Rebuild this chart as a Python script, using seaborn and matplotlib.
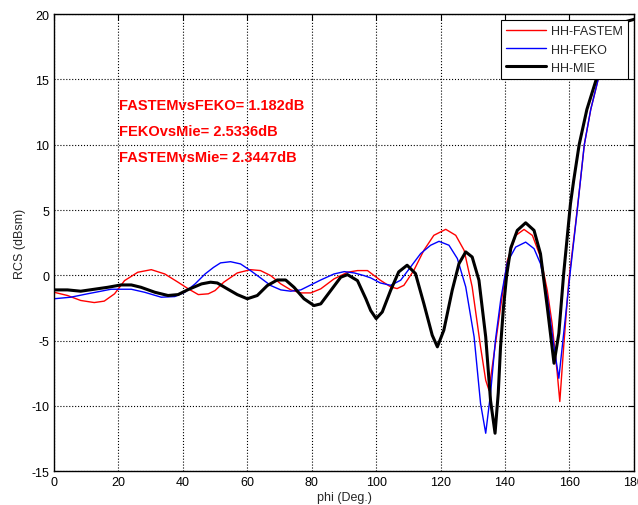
import numpy as np
import pandas as pd
import matplotlib
matplotlib.use('Agg')
import matplotlib.pyplot as plt
import seaborn as sns

# HH-MIE (black, thick)
phi_mie = [0, 4.2, 8.3, 12.5, 16.7, 20.8, 24, 27, 31.3, 35.4, 38.5, 41.7,
           45.8, 48.6, 50.7, 53.8, 56.9, 60, 63.1, 66.2, 69.3, 71.9, 74.5,
           77.6, 80.7, 82.8, 85.9, 89, 91.1, 94.2, 96.8, 98.3, 100, 101.9,
           104.5, 107, 109.6, 112.2, 114.8, 117.4, 119, 121, 123.6, 125.7,
           127.8, 129.8, 131.9, 134, 135.5, 136.9, 137.9, 138.6, 139.5, 140.5,
           141.8, 143.8, 146.4, 149, 151, 153.1, 155.2, 156.7, 158.2, 160.3,
           161.3, 163, 165.4, 168.3, 171, 174, 177, 180]
rcs_mie = [-1.12, -1.12, -1.22, -1.07, -0.92, -0.74, -0.74, -0.92, -1.3, -1.55,
           -1.48, -1.09, -0.66, -0.53, -0.59, -1.04, -1.48, -1.8, -1.55, -0.79,
           -0.36, -0.36, -0.92, -1.8, -2.32, -2.19, -1.17, -0.15, 0.05, -0.41,
           -1.8, -2.7, -3.32, -2.81, -1.15, 0.26, 0.77, 0.13, -2.17, -4.59,
           -5.48, -4.21, -1.15, 0.89, 1.79, 1.4, -0.38, -4.72, -9.6, -12.1,
           -9.0, -5.5, -2.5, 0.0, 2.1, 3.44, 4.02, 3.44, 1.65, -2.42, -6.74,
           -4.45, 0.13, 5.47, 7.25, 10, 12.7, 15, 17, 18.6, 19.4, 19.6]

# HH-FASTEM (red)
phi_fastem = [0, 4.2, 8.3, 12.5, 15.6, 18.8, 21.9, 26, 30.2, 34.4, 38.5, 41.7,
              44.8, 47.9, 50, 52.7, 56.9, 61, 64.1, 67.3, 70.4, 73.5, 76.6,
              79.7, 82.8, 86.9, 91.1, 94.2, 97.3, 101.3, 104.5, 106.5, 108.6,
              111.7, 114.8, 117.9, 121.6, 124.7, 127.3, 129.8, 132.4, 134, 135,
              136.6, 138.7, 140.7, 143.3, 145.9, 148.5, 151, 153.1, 154.6,
              156.2, 157, 158.2, 159.8, 161.9, 163.4, 164.6, 166.6, 168.9, 173,
              176, 178.5, 180]
rcs_fastem = [-1.3, -1.55, -1.93, -2.09, -1.98, -1.42, -0.41, 0.23, 0.43, 0.1,
              -0.53, -1.04, -1.48, -1.42, -1.17, -0.53, 0.18, 0.43, 0.36, -0.03,
              -0.66, -1.12, -1.35, -1.35, -1.04, -0.28, 0.23, 0.36, 0.36, -0.38,
              -0.89, -1.02, -0.77, 0.38, 1.91, 3.06, 3.52, 3.06, 1.91, -0.89,
              -5.48, -8.04, -8.8, -6.0, -2.3, 1.1, 3.05, 3.51, 3.05, 1.4, -1.15,
              -3.69, -7.5, -9.67, -5.47, -0.38, 3.94, 7.25, 10, 12.7, 15, 17.8,
              19.0, 19.5, 19.6]

# HH-FEKO (blue)
phi_feko = [0, 5.2, 10.4, 14.6, 17.7, 24, 28.1, 33.3, 37.5, 40.6, 43.8, 46.9,
            49.5, 51.7, 54.8, 57.9, 61, 64.1, 67.3, 70.4, 73.5, 76.6, 79.7,
            82.8, 86.9, 90.1, 93.2, 96.3, 98.3, 101.3, 104.5, 107.6, 110.7,
            113.8, 116.9, 119.5, 122.6, 125.2, 127.8, 130.4, 132.4, 134, 135.5,
            137, 138.7, 140.7, 143.3, 146.4, 149, 151, 153.1, 155.2, 156.7,
            158.2, 160.3, 162.3, 163.4, 164.6, 166.6, 168.9, 173, 176, 178.5,
            180]
rcs_feko = [-1.8, -1.68, -1.42, -1.22, -1.07, -1.07, -1.3, -1.68, -1.63, -1.3,
            -0.66, 0.1, 0.6, 0.95, 1.04, 0.87, 0.36, -0.2, -0.79, -1.12, -1.22,
            -1.12, -0.74, -0.36, 0.1, 0.28, 0.18, -0.03, -0.2, -0.59, -0.77,
            -0.38, 0.64, 1.66, 2.3, 2.6, 2.3, 1.28, -0.89, -4.72, -9.82, -12.1,
            -9.06, -5.0, -1.8, 1.0, 2.16, 2.54, 2.04, 0.89, -1.65, -5.47, -7.89,
            -4.45, 0.38, 4.71, 7.25, 10, 12.7, 15, 17.8, 19.0, 19.5, 19.6]

notes = ["FASTEMvsFEKO= 1.182dB", "FEKOvsMie= 2.5336dB", "FASTEMvsMie= 2.3447dB"]
note_y = [13.05, 11.05, 9.05]

xticks = list(range(0, 181, 20))
yticks = list(range(-15, 21, 5))

sns.set_style("white")
plt.rcParams['font.family'] = ['Liberation Sans', 'DejaVu Sans']
plt.rcParams['axes.unicode_minus'] = False

fig = plt.figure(figsize=(6.38, 5.06), dpi=100)
ax = fig.add_axes([0.0846, 0.067, 0.909, 0.903])

series = [
    ("HH-FASTEM", phi_fastem, rcs_fastem, "#ff0000", 1.0),
    ("HH-FEKO", phi_feko, rcs_feko, "#0000ff", 1.0),
    ("HH-MIE", phi_mie, rcs_mie, "black", 2.2),
]
for name, xs, ys, col, lw in series:
    df = pd.DataFrame({"phi": xs, "rcs": ys})
    sns.lineplot(data=df, x="phi", y="rcs", ax=ax, color=col, linewidth=lw,
                 sort=False, estimator=None, label=name)

ax.set_xlim(0, 180)
ax.set_ylim(-15, 20)
ax.set_xticks(xticks)
ax.set_yticks(yticks)
ax.tick_params(direction="in", length=4, width=0.8, labelsize=9,
               top=True, right=True, colors="black")
ax.grid(True, linestyle=":", color="black", linewidth=0.8)
for s in ax.spines.values():
    s.set_color("black")
    s.set_linewidth(1.0)

ax.set_xlabel("phi (Deg.)", fontsize=9, labelpad=2)
ax.set_ylabel("RCS (dBsm)", fontsize=9, labelpad=4)

for txt, y in zip(notes, note_y):
    ax.text(20.3, y, txt, color="#ff0000", fontsize=10.5, fontweight="bold",
            va="center", ha="left")

leg = ax.legend(loc="upper right", bbox_to_anchor=(0.99, 0.988), fontsize=9,
                frameon=True, fancybox=False, framealpha=1, edgecolor="black",
                handlelength=3.2, borderpad=0.45, labelspacing=0.5,
                handletextpad=0.35, borderaxespad=0)
leg.get_frame().set_linewidth(0.8)

fig.savefig("out.png", dpi=100)
